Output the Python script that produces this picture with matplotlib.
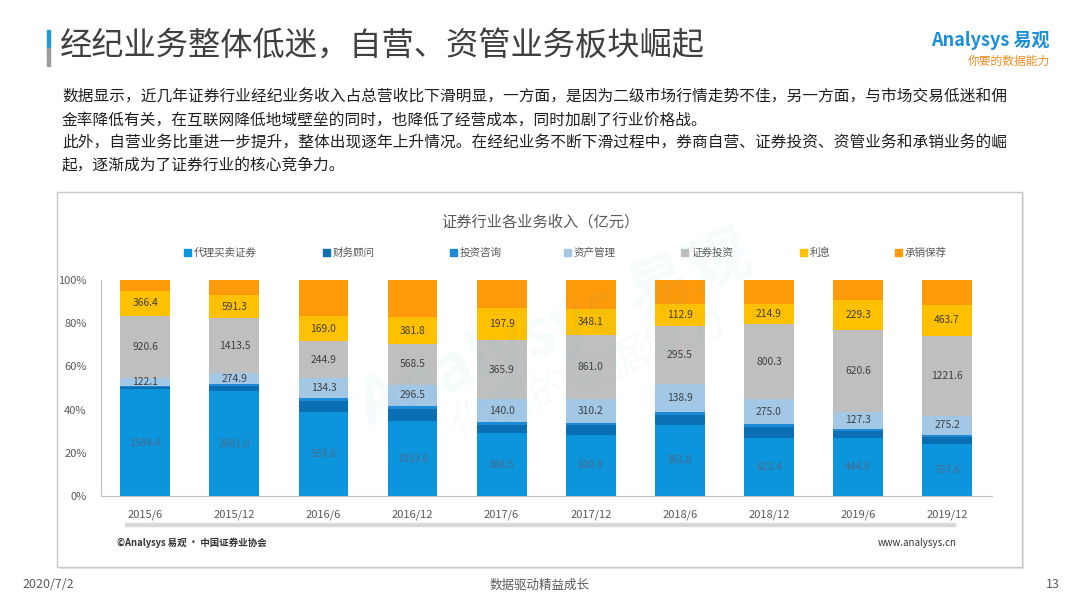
import numpy as np
import matplotlib
matplotlib.use('Agg')
import matplotlib.pyplot as plt
from matplotlib.patches import Rectangle

plt.rcParams['font.family'] = ['Noto Sans CJK SC', 'DejaVu Sans']

# ─────────────────────────────────────────
#  Données (亿元)
# ─────────────────────────────────────────
periods = ["2015/6", "2015/12", "2016/6", "2016/12", "2017/6",
           "2017/12", "2018/6", "2018/12", "2019/6", "2019/12"]

brokerage   = [1584.4, 2691.0, 559.8, 1053.0, 388.5, 820.9, 363.8, 623.4, 444.0, 787.6]   # 代理买卖证券
advisory    = [36.0, 137.9, 72.0, 164.2, 54.0, 125.4, 51.0, 111.5, 50.0, 105.2]          # 财务顾问
consulting  = [12.0, 44.8, 22.0, 50.5, 16.0, 34.0, 15.0, 31.5, 17.0, 37.8]               # 投资咨询
asset_mgmt  = [122.1, 274.9, 134.3, 296.5, 140.0, 310.2, 138.9, 275.0, 127.3, 275.2]     # 资产管理
investment  = [920.6, 1413.5, 244.9, 568.5, 365.9, 861.0, 295.5, 800.3, 620.6, 1221.6]   # 证券投资
interest    = [366.4, 591.3, 169.0, 381.8, 197.9, 348.1, 112.9, 214.9, 229.3, 463.7]     # 利息
underwrite  = [163.0, 393.5, 240.0, 520.0, 175.0, 384.2, 123.0, 258.5, 152.0, 377.4]     # 承销保荐

series_names = ["代理买卖证券", "财务顾问", "投资咨询", "资产管理", "证券投资", "利息", "承销保荐"]
series_vals  = [brokerage, advisory, consulting, asset_mgmt, investment, interest, underwrite]
colors       = ["#0C95DC", "#0B6FB3", "#1C8AD6", "#A3C8E6", "#BFBFBF", "#FFC000", "#FF9A0A"]
labeled      = [True, False, False, True, True, True, False]

paragraph = [
    "数据显示，近几年证券行业经纪业务收入占总营收比下滑明显，一方面，是因为二级市场行情走势不佳，另一方面，与市场交易低迷和佣",
    "金率降低有关，在互联网降低地域壁垒的同时，也降低了经营成本，同时加剧了行业价格战。",
    "此外，自营业务比重进一步提升，整体出现逐年上升情况。在经纪业务不断下滑过程中，券商自营、证券投资、资管业务和承销业务的崛",
    "起，逐渐成为了证券行业的核心竞争力。",
]

W, H = 1080, 608
fig = plt.figure(figsize=(W / 100, H / 100), dpi=100)
fig.patch.set_facecolor("white")


def fx(px):
    return px / W


def fy(py):
    return 1 - py / H


# ── En-tête ──
fig.patches.append(Rectangle((fx(47), fy(48)), fx(3), 18 / H, transform=fig.transFigure,
                             color="#1E9BD7", zorder=3))
fig.patches.append(Rectangle((fx(47), fy(66)), fx(3), 18 / H, transform=fig.transFigure,
                             color="#9A9A9A", zorder=3))
fig.text(fx(60), fy(47), "经纪业务整体低迷，自营、资管业务板块崛起", fontsize=23.2,
         color="#3F3F3F", va="center", ha="left")

fig.text(fx(1050), fy(40), "Analysys 易观", fontsize=13, color="#1A8FD6",
         fontweight="bold", va="center", ha="right", style="italic")
fig.text(fx(1050), fy(61), "你要的数据能力", fontsize=8.5, color="#F08C1E",
         va="center", ha="right", style="italic")

for i, line in enumerate(paragraph):
    fig.text(fx(62), fy(97 + i * 23), line, fontsize=11.3, color="#1F1F1F",
             va="center", ha="left")

# ── Cadre du graphique ──
fig.patches.append(Rectangle((fx(59), fy(569)), fx(965), 376 / H, transform=fig.transFigure,
                             facecolor="#E6E6E6", edgecolor="none", zorder=-2))
fig.patches.append(Rectangle((fx(57), fy(567)), fx(965), 375 / H, transform=fig.transFigure,
                             facecolor="white", edgecolor="#C8C8C8", linewidth=1, zorder=-1))

fig.text(0.5, fy(222), "证券行业各业务收入（亿元）", fontsize=11, color="#595959",
         va="center", ha="center")

legend_x = [184, 323, 450, 564, 681, 800, 895]
for x, name, c in zip(legend_x, series_names, colors):
    fig.patches.append(Rectangle((fx(x), fy(256)), fx(7), 7 / H, transform=fig.transFigure,
                                 color=c, zorder=3))
    fig.text(fx(x + 10), fy(252.5), name, fontsize=7.6, color="#595959",
             va="center", ha="left")

# filigrane
fig.text(fx(555), fy(330), "Analysys 易观", fontsize=46, color="#2AA7C9", alpha=0.045,
         rotation=22, ha="center", va="center", fontweight="bold", zorder=5)
fig.text(fx(590), fy(375), "你要的数据能力", fontsize=30, color="#2AA7C9", alpha=0.04,
         rotation=22, ha="center", va="center", zorder=5)

# ── Axes ──
ax = fig.add_axes([fx(100.7), fy(496), fx(891), 216 / H])
ax.set_facecolor("none")

vals = np.array(series_vals, dtype=float)
pct = vals / vals.sum(axis=0) * 100
x = np.arange(len(periods))
bottom = np.zeros(len(periods))
for k in range(len(series_names)):
    ax.bar(x, pct[k], width=0.56, bottom=bottom, color=colors[k], edgecolor="none", zorder=2)
    if labeled[k]:
        tc = "#4A6A8A" if k == 0 else "#404040"
        for j in range(len(periods)):
            ax.text(x[j], bottom[j] + pct[k][j] / 2, f"{vals[k][j]:.1f}", ha="center",
                    va="center", fontsize=7.4, color=tc, zorder=3)
    bottom += pct[k]

ax.set_xlim(-0.5, len(periods) - 0.5)
ax.set_ylim(0, 100)
ax.set_yticks(np.arange(0, 101, 20))
ax.set_yticklabels([f"{v}%" for v in range(0, 101, 20)], fontsize=8, color="#595959")
ax.set_xticks(x)
ax.set_xticklabels(periods, fontsize=8, color="#595959")
ax.tick_params(length=0, axis="y", pad=10)
ax.tick_params(length=0, axis="x", pad=10)
for s in ["top", "right"]:
    ax.spines[s].set_visible(False)
ax.spines["left"].set_color("#BFBFBF")
ax.spines["bottom"].set_color("#BFBFBF")

# barre grise sous les étiquettes
fig.patches.append(Rectangle((fx(125), fy(525.5)), fx(830), 3 / H, transform=fig.transFigure,
                             color="#D9D9D9", zorder=1))

fig.text(fx(117), fy(543), "©Analysys 易观 · 中国证券业协会", fontsize=6.8, color="#333333",
         va="center", ha="left", fontweight="bold")
fig.text(fx(957), fy(543), "www.analysys.cn", fontsize=7, color="#333333",
         va="center", ha="right")

# ── Pied de page ──
fig.text(fx(22), fy(585), "2020/7/2", fontsize=9, color="#595959", va="center", ha="left")
fig.text(0.5, fy(585), "数据驱动精益成长", fontsize=9, color="#595959", va="center", ha="center")
fig.text(fx(1060), fy(585), "13", fontsize=9, color="#595959", va="center", ha="right")

fig.savefig("out.png", dpi=100)
